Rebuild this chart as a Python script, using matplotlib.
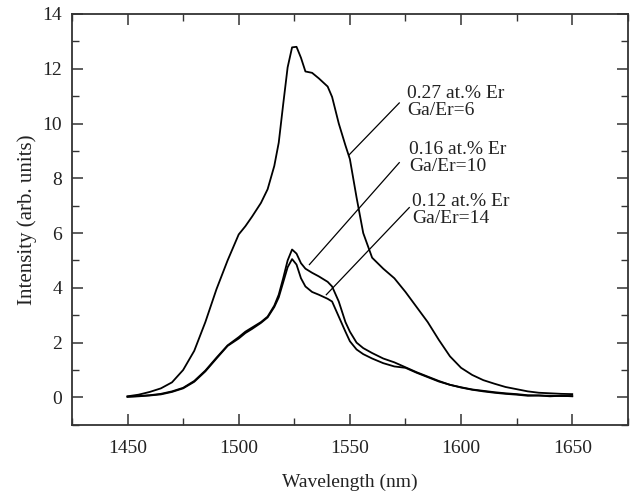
import matplotlib
matplotlib.use("Agg")
import matplotlib.pyplot as plt
from matplotlib.ticker import MultipleLocator

plt.rcParams['font.family'] = ['Liberation Serif', 'DejaVu Serif']

# wavelength grid (nm)
wl = [1450, 1455, 1460, 1465, 1470, 1475, 1480, 1485, 1490, 1495, 1500, 1503, 1506,
      1510, 1513, 1516, 1518, 1520, 1522, 1524, 1526, 1528, 1530, 1533, 1536, 1540,
      1542, 1545, 1548, 1550, 1553, 1556, 1560, 1565, 1570, 1575, 1580, 1585, 1590,
      1595, 1600, 1605, 1610, 1615, 1620, 1625, 1630, 1635, 1640, 1645, 1650]

# 0.27 at.% Er, Ga/Er=6
er027 = [0.04, 0.10, 0.20, 0.33, 0.55, 1.00, 1.70, 2.75, 3.95, 5.00, 5.95, 6.25, 6.60,
         7.10, 7.60, 8.45, 9.30, 10.70, 12.05, 12.78, 12.80, 12.40, 11.90, 11.85, 11.65, 11.35,
         10.97, 10.00, 9.20, 8.70, 7.30, 6.00, 5.10, 4.70, 4.35, 3.85, 3.30, 2.75, 2.10,
         1.50, 1.08, 0.82, 0.63, 0.50, 0.38, 0.30, 0.22, 0.17, 0.15, 0.13, 0.12]

# 0.16 at.% Er, Ga/Er=10
er016 = [0.03, 0.05, 0.08, 0.13, 0.22, 0.35, 0.60, 0.98, 1.45, 1.90, 2.20, 2.40, 2.55,
         2.75, 2.95, 3.35, 3.75, 4.35, 5.00, 5.40, 5.25, 4.90, 4.70, 4.55, 4.42, 4.22,
         4.05, 3.50, 2.75, 2.40, 2.00, 1.80, 1.62, 1.42, 1.28, 1.10, 0.92, 0.76, 0.60,
         0.46, 0.37, 0.29, 0.24, 0.19, 0.15, 0.12, 0.08, 0.07, 0.06, 0.05, 0.05]

# 0.12 at.% Er, Ga/Er=14
er012 = [0.02, 0.04, 0.07, 0.11, 0.20, 0.33, 0.57, 0.95, 1.42, 1.88, 2.15, 2.35, 2.50,
         2.72, 2.92, 3.30, 3.65, 4.20, 4.75, 5.05, 4.85, 4.35, 4.05, 3.85, 3.75, 3.60,
         3.50, 2.95, 2.40, 2.05, 1.75, 1.58, 1.42, 1.25, 1.13, 1.08, 0.90, 0.74, 0.58,
         0.46, 0.36, 0.28, 0.22, 0.17, 0.13, 0.10, 0.06, 0.07, 0.04, 0.06, 0.04]

labels = ['0.27 at.% Er\nGa/Er=6', '0.16 at.% Er\nGa/Er=10', '0.12 at.% Er\nGa/Er=14']
# (point on curve, end of leader line)
arrows = [((1549.7, 8.86), (1572.2, 10.75)),
          ((1531.8, 4.85), (1572.2, 8.57)),
          ((1539.4, 3.75), (1576.7, 6.93))]
text_pos = [(1575.8, 10.8), (1576.7, 8.75), (1578.0, 6.85)]

fig = plt.figure(figsize=(6.31, 4.98), dpi=100)
ax = fig.add_axes([0.114, 0.147, 0.881, 0.825])

for s in [er027, er016, er012]:
    ax.plot(wl, s, color='black', lw=1.3)

for (p0, p1), lab, tp in zip(arrows, labels, text_pos):
    ax.plot([p0[0], p1[0]], [p0[1], p1[1]], color='black', lw=0.9)
    ax.text(tp[0], tp[1], lab, ha='left', va='center', fontsize=14, linespacing=1.0,
            color='#222222')

ax.set_xlim(1425, 1675)
ax.set_ylim(-1, 14)
ax.xaxis.set_major_locator(MultipleLocator(50))
ax.xaxis.set_minor_locator(MultipleLocator(25))
ax.yaxis.set_major_locator(MultipleLocator(2))
ax.yaxis.set_minor_locator(MultipleLocator(1))
ax.tick_params(which='both', direction='in', top=True, right=True, labelsize=14,
               color='#333333', labelcolor='#222222')
ax.tick_params(which='major', length=8, width=1.1)
ax.tick_params(axis='x', which='major', pad=11)
ax.tick_params(axis='y', which='major', pad=7)
ax.tick_params(which='minor', length=5, width=1.0)
for sp in ax.spines.values():
    sp.set_linewidth(1.3)
    sp.set_color('#333333')

ax.set_xlabel('Wavelength (nm)', fontsize=14, labelpad=12, color='#222222')
ax.set_ylabel('Intensity (arb. units)', fontsize=15, labelpad=4, color='#222222')

fig.savefig('out.png', dpi=100)
